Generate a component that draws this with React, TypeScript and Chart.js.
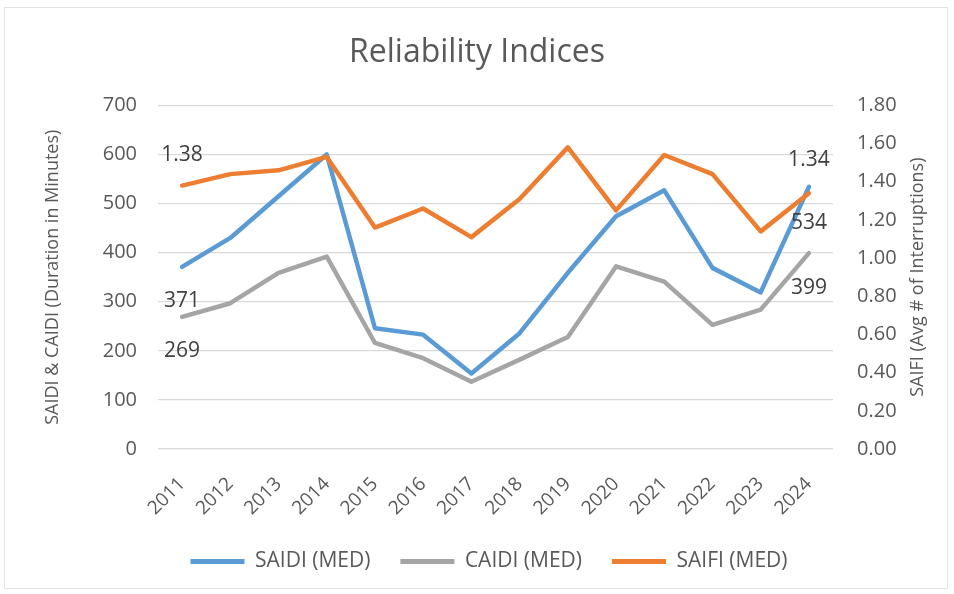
import React, { useEffect, useRef } from "react";
import { Chart, registerables } from "chart.js";

Chart.register(...registerables);

const years = ["2011", "2012", "2013", "2014", "2015", "2016", "2017", "2018", "2019", "2020", "2021", "2022", "2023", "2024"];
const saidi = [371, 430, 515, 600, 246, 233, 154, 236, 359, 474, 527, 369, 319, 534];
const caidi = [269, 297, 359, 392, 216, 185, 137, 182, 228, 372, 341, 253, 284, 399];
const saifi = [1.38, 1.44, 1.46, 1.53, 1.16, 1.26, 1.11, 1.31, 1.58, 1.25, 1.54, 1.44, 1.14, 1.34];

const seriesNames = ["SAIDI (MED)", "CAIDI (MED)", "SAIFI (MED)"];
const seriesColors = ["#5B9BD5", "#A5A5A5", "#ED7D31"];

const leftTitle = "SAIDI & CAIDI (Duration in Minutes)";
const rightTitle = "SAIFI (Avg # of Interruptions)";
const chartTitle = "Reliability Indices";

// data labels: dataset, point index, vertical offset (px)
const labelSpecs = [
  { ds: 2, idx: 0, dy: -31, dec: 2 },
  { ds: 0, idx: 0, dy: 34, dec: 0 },
  { ds: 1, idx: 0, dy: 34, dec: 0 },
  { ds: 2, idx: 13, dy: -33, dec: 2 },
  { ds: 0, idx: 13, dy: 36, dec: 0 },
  { ds: 1, idx: 13, dy: 35, dec: 0 },
];

const FONT = "'Open Sans', sans-serif";
const TEXT = "#595959";

export default function App() {
  const ref = useRef<HTMLCanvasElement>(null);

  useEffect(() => {
    if (!ref.current) return;
    const seriesData = [saidi, caidi, saifi];

    const labelPlugin = {
      id: "pointLabels",
      afterDatasetsDraw(chart: any) {
        const ctx = chart.ctx;
        ctx.save();
        ctx.font = `21px ${FONT}`;
        ctx.fillStyle = "#404040";
        ctx.textAlign = "center";
        ctx.textBaseline = "middle";
        labelSpecs.forEach((s) => {
          const el = chart.getDatasetMeta(s.ds).data[s.idx];
          const v = seriesData[s.ds][s.idx];
          ctx.fillText(v.toFixed(s.dec), el.x, el.y + s.dy);
        });
        ctx.restore();
      },
    };

    const rightTitlePlugin = {
      id: "rightTitle",
      afterDraw(chart: any) {
        const ctx = chart.ctx;
        const sc = chart.scales.y1;
        const area = chart.chartArea;
        ctx.save();
        ctx.font = `18px ${FONT}`;
        ctx.fillStyle = TEXT;
        ctx.textAlign = "center";
        ctx.textBaseline = "middle";
        ctx.translate(sc.right - 36, (area.top + area.bottom) / 2);
        ctx.rotate(-Math.PI / 2);
        ctx.fillText(rightTitle, 0, 0);
        ctx.restore();
      },
    };

    const legendShift = {
      id: "legendShift",
      afterLayout(chart: any) {
        if (chart.legend) {
          chart.legend.left += 12;
          chart.legend.right += 12;
        }
      },
    };

    const chart = new Chart(ref.current, {
      type: "line",
      data: {
        labels: years,
        datasets: [
          { label: seriesNames[0], data: saidi, yAxisID: "y", borderColor: seriesColors[0], backgroundColor: seriesColors[0], order: 2 },
          { label: seriesNames[1], data: caidi, yAxisID: "y", borderColor: seriesColors[1], backgroundColor: seriesColors[1], order: 1 },
          { label: seriesNames[2], data: saifi, yAxisID: "y1", borderColor: seriesColors[2], backgroundColor: seriesColors[2], order: 0 },
        ].map((d) => ({
          ...d,
          borderWidth: 4.5,
          pointRadius: 0,
          pointHoverRadius: 0,
          tension: 0,
          borderJoinStyle: "round" as const,
          borderCapStyle: "round" as const,
          fill: false,
        })),
      },
      options: {
        responsive: false,
        animation: false,
        devicePixelRatio: 1,
        layout: { padding: { left: 0, right: 0, top: 0, bottom: 12 } },
        font: { family: FONT },
        plugins: {
          tooltip: { enabled: false },
          title: {
            display: true,
            text: chartTitle,
            color: TEXT,
            font: { family: FONT, size: 32, weight: "normal" },
            padding: { top: 34, bottom: 33 },
          },
          legend: {
            position: "bottom",
            labels: {
              color: TEXT,
              font: { family: FONT, size: 21 },
              boxWidth: 54,
              boxHeight: 5,
              padding: 30,
              sort: (a: any, b: any) => a.datasetIndex - b.datasetIndex,
              generateLabels: (c: any) =>
                Chart.defaults.plugins.legend.labels.generateLabels(c).map((l: any) => ({
                  ...l,
                  lineWidth: 0,
                  fillStyle: l.strokeStyle,
                })),
            },
          },
        },
        scales: {
          x: {
            offset: true,
            grid: { display: false, drawTicks: false },
            border: { display: false },
            ticks: {
              color: TEXT,
              font: { family: FONT, size: 19 },
              minRotation: 45,
              maxRotation: 45,
              autoSkip: false,
              padding: 24,
            },
            afterFit: (s: any) => {
              s.height = 72;
            },
          },
          y: {
            position: "left",
            min: 0,
            max: 700,
            ticks: { stepSize: 100, color: TEXT, font: { family: FONT, size: 20 }, padding: 21 },
            grid: { color: "#D9D9D9", lineWidth: 1.3, drawTicks: false },
            border: { display: false },
            title: {
              display: true,
              text: leftTitle,
              color: TEXT,
              font: { family: FONT, size: 18 },
              padding: { top: 42, bottom: 0 },
            },
            afterFit: (s: any) => {
              s.width = 158;
            },
          },
          y1: {
            position: "right",
            min: 0,
            max: 1.8,
            ticks: {
              stepSize: 0.2,
              color: TEXT,
              font: { family: FONT, size: 20 },
              padding: 24,
              callback: (v: any) => Number(v).toFixed(2),
            },
            grid: { drawOnChartArea: false, drawTicks: false },
            border: { display: false },
            afterFit: (s: any) => {
              s.width = 121;
            },
          },
        },
      },
      plugins: [labelPlugin, rightTitlePlugin, legendShift],
    } as any);

    return () => chart.destroy();
  }, []);

  return (
    <div style={{ position: "absolute", left: 0, top: 0, width: 954, height: 594, background: "#fff" }}>
      <div
        style={{
          position: "absolute",
          left: 4,
          top: 7,
          width: 944,
          height: 582,
          border: "1px solid #E3E3E3",
          boxSizing: "border-box",
        }}
      />
      <canvas ref={ref} width={954} height={594} style={{ position: "absolute", left: 0, top: 0 }} />
    </div>
  );
}
